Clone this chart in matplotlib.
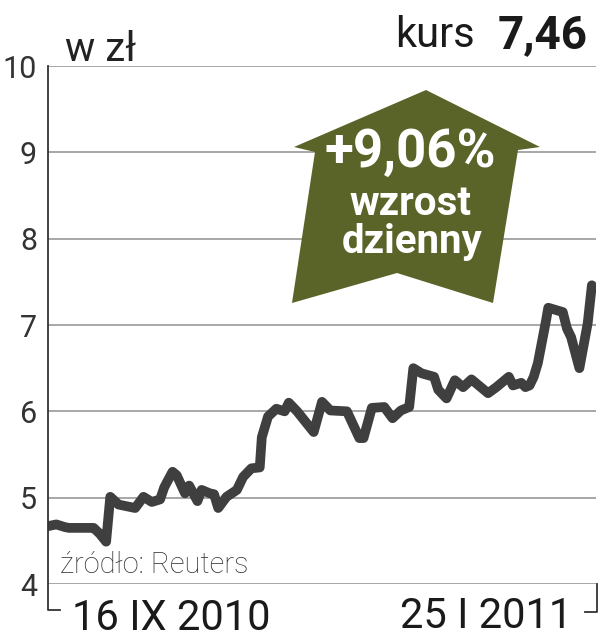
"""
Kurs akcji: 16 IX 2010 - 25 I 2011, w zł.
"""
import matplotlib
matplotlib.use("Agg")
import matplotlib.pyplot as plt
from matplotlib.lines import Line2D
from matplotlib.patches import Polygon

# dni od 16 IX 2010 i kurs zamkniecia
days = [0, 2, 4, 5, 10, 11, 12.5, 14, 15, 17, 21, 23, 25, 27, 28, 30, 31, 33,
        34, 36, 37, 39, 40, 41, 43, 45.5, 47, 49, 51, 51.5, 53, 55, 57, 58, 60,
        64, 66, 68, 72, 75, 76, 78, 81, 83, 85, 87, 88, 90, 93, 94, 96, 98, 100,
        102, 106, 108, 111, 112, 114, 115, 116, 117, 118, 120, 120.5, 124, 125,
        126, 128, 130, 131]
price = [4.67, 4.69, 4.66, 4.65, 4.65, 4.65, 4.58, 4.49, 5.01, 4.92, 4.88,
         5.01, 4.95, 4.98, 5.12, 5.30, 5.26, 5.05, 5.14, 4.96, 5.09, 5.05, 5.04,
         4.88, 5.01, 5.09, 5.24, 5.34, 5.35, 5.70, 5.94, 6.03, 6.00, 6.10, 6.00,
         5.76, 6.11, 6.01, 6.00, 5.69, 5.69, 6.04, 6.05, 5.92, 6.01, 6.05, 6.50,
         6.44, 6.40, 6.25, 6.15, 6.36, 6.28, 6.37, 6.21, 6.28, 6.40, 6.30, 6.33,
         6.28, 6.30, 6.40, 6.56, 7.06, 7.20, 7.15, 6.96, 6.86, 6.50, 7.02, 7.46]
yticks = [4, 5, 6, 7, 8, 9, 10]
start_label = "16 IX 2010"
end_label = "25 I 2011"
last_price = "7,46"
change_label = "+9,06%"

W, H = 599, 640
fig = plt.figure(figsize=(W / 100, H / 100), dpi=100)


def fx(px):
    return px / W


def fy(py):
    return 1 - py / H


ax = fig.add_axes([fx(48), fy(584), fx(596) - fx(48), fy(66) - fy(584)])
ax.set_xlim(0, 132)
ax.set_ylim(4, 10)

ax.plot(days, price, color="#3f3f3f", lw=7, solid_joinstyle="round",
        solid_capstyle="round", zorder=3)

ax.set_yticks(yticks)
ax.set_yticklabels([str(t) for t in yticks], family="Roboto",
                   fontsize=22, color="#333333")
ax.set_xticks([])
ax.tick_params(axis="y", length=0, pad=8)
ax.yaxis.grid(True, color="#a0a0a0", lw=1.3)
ax.set_axisbelow(True)
for s in ["top", "right", "bottom", "left"]:
    ax.spines[s].set_visible(False)

# osie / klamry
ink = "#333333"
fig.add_artist(Line2D([fx(48), fx(48), fx(60)], [fy(66), fy(610), fy(610)],
                      color=ink, lw=1.3))
fig.add_artist(Line2D([fx(585), fx(597), fx(597)], [fy(612), fy(612), fy(584)],
                      color=ink, lw=1.3))

# strzalka
arrow_px = [(426, 90), (540, 147), (518, 150), (493, 303), (397, 273),
            (292, 303), (315, 152), (294, 147)]
arrow = Polygon([(fx(x), fy(y)) for x, y in arrow_px], closed=True,
                transform=fig.transFigure, facecolor="#5a6429",
                edgecolor="none", zorder=4, clip_on=False)
ax.add_patch(arrow)

fig.text(fx(410), fy(167), change_label, family="Roboto", weight="bold",
         fontsize=38, color="white", ha="center", va="baseline", zorder=5)
fig.text(fx(410), fy(215), "wzrost", family="Roboto", weight="bold",
         fontsize=29, color="white", ha="center", va="baseline", zorder=5)
fig.text(fx(412), fy(253), "dzienny", family="Roboto", weight="bold",
         fontsize=29, color="white", ha="center", va="baseline", zorder=5)

# napisy
fig.text(fx(65), fy(61), "w zł", family="Roboto",
         fontsize=29, color="#222222", va="baseline")
fig.text(fx(475), fy(47), "kurs", family="Roboto", fontsize=30,
         color="#1a1a1a", ha="right", va="baseline")
fig.text(fx(588), fy(48), last_price, family="Roboto", weight="bold",
         fontsize=33, color="#1a1a1a", ha="right", va="baseline")
fig.text(fx(60), fy(573), "źródło: Reuters", family="Roboto", weight="light",
         fontsize=21, color="#333333", va="baseline")
fig.text(fx(72), fy(630), start_label, family="Roboto", fontsize=30,
         color="#1a1a1a", va="baseline")
fig.text(fx(572), fy(628), end_label, family="Roboto", fontsize=30,
         color="#1a1a1a", ha="right", va="baseline")

fig.savefig("out.png", dpi=100)
